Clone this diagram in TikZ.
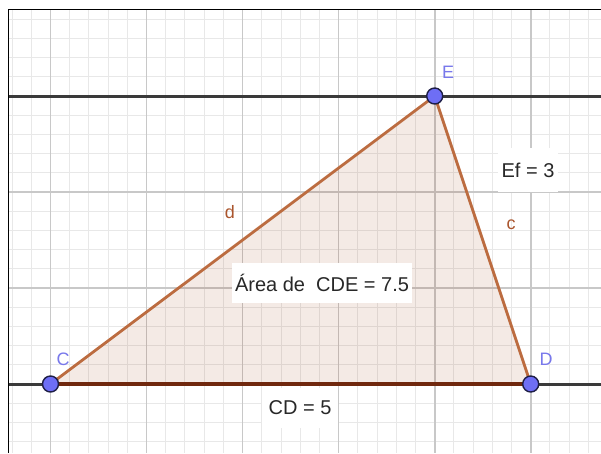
\documentclass[tikz,border=0pt]{standalone}
\usepackage{fontspec}
\setmainfont{Liberation Sans}
\definecolor{minorgrid}{RGB}{232,232,232}
\definecolor{majorgrid}{RGB}{200,200,200}
\definecolor{axisline}{RGB}{58,58,58}
\definecolor{edgebrown}{RGB}{188,108,64}
\definecolor{basebrown}{RGB}{112,40,14}
\definecolor{fillbrown}{RGB}{153,51,0}
\definecolor{ptblue}{RGB}{110,110,245}
\definecolor{ptedge}{RGB}{30,30,70}
\definecolor{lblblue}{RGB}{120,120,235}
\definecolor{seglbl}{RGB}{170,85,45}
\definecolor{txtgray}{RGB}{40,40,40}
\begin{document}
\begin{tikzpicture}[x=1pt,y=-1pt,
  pointnode/.style={circle,fill=ptblue,draw=ptedge,line width=1.4pt,inner sep=0pt,minimum size=16pt},
  ptlabel/.style={text=lblblue,font=\fontsize{18}{18}\selectfont,inner sep=0pt},
  seglabel/.style={text=seglbl,font=\fontsize{18}{18}\selectfont,inner sep=0pt},
  valbox/.style={fill=white,inner sep=0pt,text=txtgray,font=\fontsize{20}{20}\selectfont},
  minorline/.style={draw=minorgrid,line width=1pt},
  majorline/.style={draw=majorgrid,line width=1.6pt},
  axis/.style={draw=axisline,line width=3pt},
  side/.style={draw=edgebrown,line width=2.8pt,line cap=round},
  base/.style={draw=basebrown,line width=3.8pt}
]
\useasboundingbox (0,0) rectangle (601,453);
\fill[white] (0,0) rectangle (601,453);
% grid
\begin{scope}
\clip (8.5,9.5) rectangle (601,453);
\foreach \i in {-3,...,29} {
  \draw[minorline] ({50.5+19.21*\i},0) -- ({50.5+19.21*\i},453);
}
\foreach \j in {-21,...,4} {
  \draw[minorline] (0,{384+19.21*\j}) -- (601,{384+19.21*\j});
}
\foreach \i in {-1,...,6} {
  \draw[majorline] ({50.5+96.05*\i},0) -- ({50.5+96.05*\i},453);
}
\foreach \j in {-4,...,1} {
  \draw[majorline] (0,{384+96.05*\j}) -- (601,{384+96.05*\j});
}
\end{scope}
% frame
\draw[black,line width=1.6pt] (8.5,453) -- (8.5,9.5) -- (601,9.5);
% points
\coordinate (Cp) at (50.5,384);
\coordinate (Dp) at (530.7,384);
\coordinate (Ep) at (434.7,96);
\coordinate (L1) at (8.5,96);
\coordinate (R1) at (601,96);
\coordinate (L2) at (8.5,384);
\coordinate (R2) at (601,384);
% triangle fill
\fill[fillbrown,opacity=0.1] (Cp) -- (Dp) -- (Ep) -- cycle;
% value boxes
\node[valbox,minimum width=180pt,minimum height=40pt] (area) at (322,283) {Área de\ \ CDE = 7.5};
\node[valbox,minimum width=60pt,minimum height=44pt] (ef) at (528,170) {Ef = 3};
\node[valbox,minimum width=76pt,minimum height=40pt] (cd) at (300,408) {CD = 5};
% lines
\draw[axis] (L1) -- (R1);
\draw[axis] (L2) -- (R2);
\draw[side] (Cp) -- (Ep);
\draw[side] (Ep) -- (Dp);
\draw[base] (Cp) -- (Dp);
% segment labels
\node[seglabel] (d) at (230,212) {d};
\node[seglabel] (c) at (511,225) {c};
% point nodes
\node[pointnode] (C) at (Cp) {};
\node[pointnode] (D) at (Dp) {};
\node[pointnode] (E) at (Ep) {};
\node[ptlabel] (Elbl) at (448,72) {E};
\node[ptlabel] (Clbl) at (63,359) {C};
\node[ptlabel] (Dlbl) at (546,359) {D};
\end{tikzpicture}
\end{document}
